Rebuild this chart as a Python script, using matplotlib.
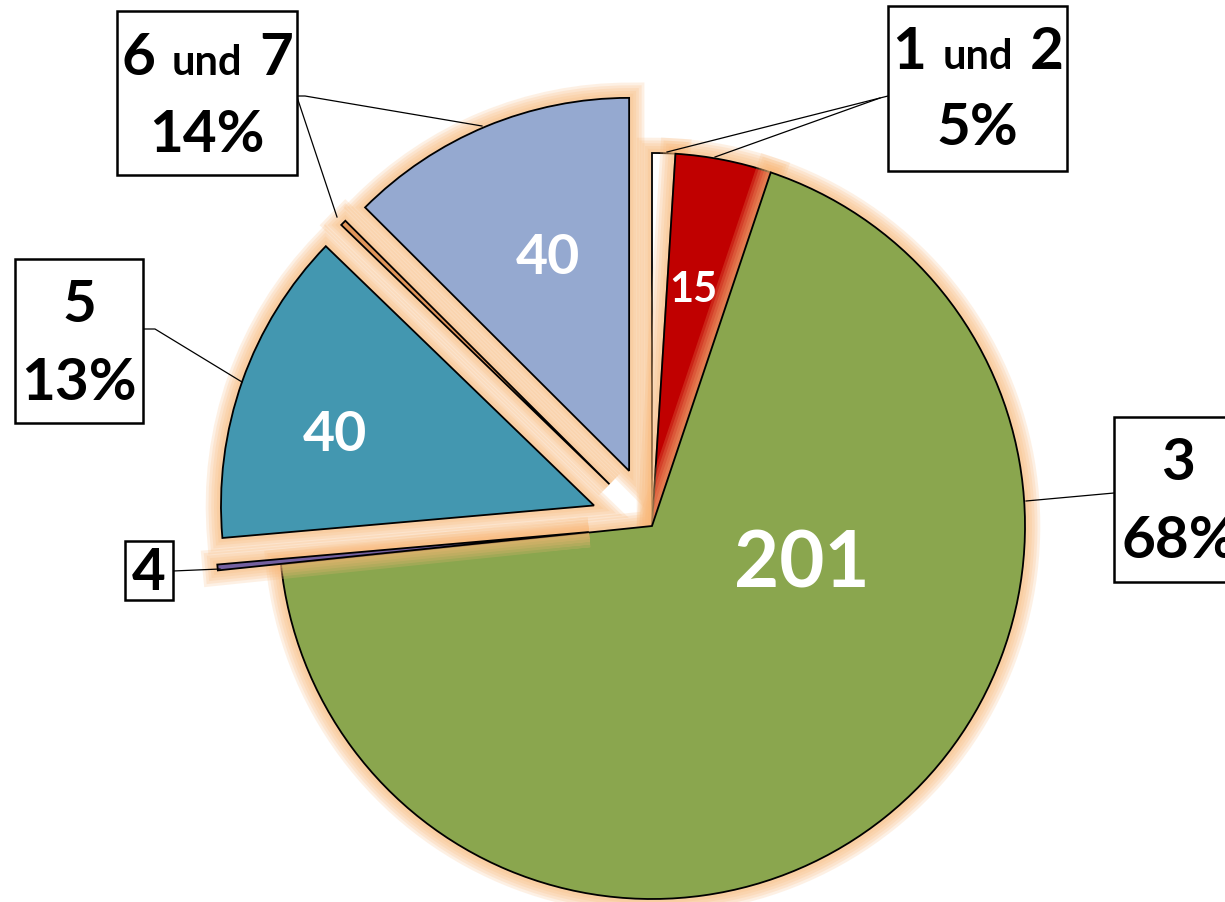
import matplotlib
matplotlib.use("Agg")
import matplotlib.pyplot as plt
import matplotlib.patheffects as pe
from matplotlib.patches import Rectangle
from matplotlib.offsetbox import TextArea, HPacker, AnnotationBbox

plt.rcParams["font.family"] = ["Lato", "DejaVu Sans"]

slice_names = ["1", "2", "3", "4", "5", "6", "7"]
slice_shares = [1.0, 4.15, 68.1, 0.25, 13.6, 0.25, 12.5]
slice_colors = ["#ffffff", "#c00000", "#8aa64e", "#7460a0", "#4397b0", "#e0955a", "#95a9d0"]
slice_explode = [0, 0, 0, 0.17, 0.165, 0.16, 0.16]  # fraction of radius

# numbers written inside the slices
value_labels = ["", "15", "201", "", "40", "", "40"]

# callout boxes: first line parts, second line
box_line1 = [["1", "und", "2"], ["3"], ["4"], ["5"], ["6", "und", "7"]]
box_line2 = ["5%", "68%", "", "13%", "14%"]

H = 903
CX, CY, R = 652, H - 527, 373

fig = plt.figure(figsize=(12.25, 9.03), dpi=100)
ax = fig.add_axes([0, 0, 1, 1])

# soft orange glow round every slice: stacked strokes, widest first
glow = [pe.Stroke(linewidth=lw, foreground="#f9b878", alpha=0.2)
        for lw in (22, 18, 14, 10, 6)]
glow.append(pe.Normal())

# pie explode is in data units, so scale by the radius
wedges, _ = ax.pie(
    slice_shares,
    colors=slice_colors,
    explode=[e * R for e in slice_explode],
    startangle=90,
    counterclock=False,
    center=(CX, CY),
    radius=R,
    wedgeprops=dict(edgecolor="black", linewidth=1.3),
)
for w in wedges:
    w.set_path_effects(glow)

ax.set_xlim(0, 1225)
ax.set_ylim(0, H)
ax.set_aspect("equal")
ax.axis("off")

# values inside slices
value_pos = {1: (693, 290, 30), 2: (802, 565, 56), 4: (335, 435, 40), 6: (548, 258, 40)}
for i, (x, y, fs) in value_pos.items():
    ax.text(x, H - y, value_labels[i], color="white", fontsize=fs,
            fontweight="bold", ha="center", va="center", zorder=5)

# callout boxes (x0, y0, x1, y1 in image pixels, centre y of line 1 and 2)
box_geom = [
    (888, 7, 1067, 172, 52, 128),
    (1114, 418, 1240, 583, 463, 542),
    (125, 542, 173, 601, 573, None),
    (15, 260, 143, 424, 305, 383),
    (117, 12, 297, 176, 58, 135),
]
for parts, pct, (x0, y0, x1, y1, l1, l2) in zip(box_line1, box_line2, box_geom):
    ax.add_patch(Rectangle((x0, H - y1), x1 - x0, y1 - y0, facecolor="white",
                           edgecolor="black", linewidth=1.8, zorder=6,
                           clip_on=False))
    areas = []
    for p in parts:
        size = 30 if p == "und" else 42
        areas.append(TextArea(p, textprops=dict(fontsize=size, fontweight="bold",
                                                color="black")))
    cx = (x0 + x1) / 2 if x1 <= 1225 else 1178
    pack = HPacker(children=areas, align="baseline", pad=0, sep=12)
    ab = AnnotationBbox(pack, (cx, H - l1), frameon=False, box_alignment=(0.5, 0.5),
                        pad=0, zorder=7)
    ax.add_artist(ab)
    if pct:
        # the right-hand box runs off the picture, as in the original
        ax.text(cx if x1 <= 1225 else 1122, H - l2, pct, fontsize=42,
                fontweight="bold", ha="center" if x1 <= 1225 else "left",
                va="center", zorder=7)

# leader lines
leaders = [
    [(888, 97), (880, 99), (667, 153)],
    [(880, 99), (715, 158)],
    [(1114, 494), (1026, 502)],
    [(173, 572), (220, 570)],
    [(143, 330), (155, 330), (242, 383)],
    [(297, 97), (305, 97), (482, 127)],
    [(297, 98), (337, 218)],
]
for pts in leaders:
    xs = [p[0] for p in pts]
    ys = [H - p[1] for p in pts]
    ax.plot(xs, ys, color="black", linewidth=0.9, zorder=4)

plt.savefig("out.png", dpi=100)
